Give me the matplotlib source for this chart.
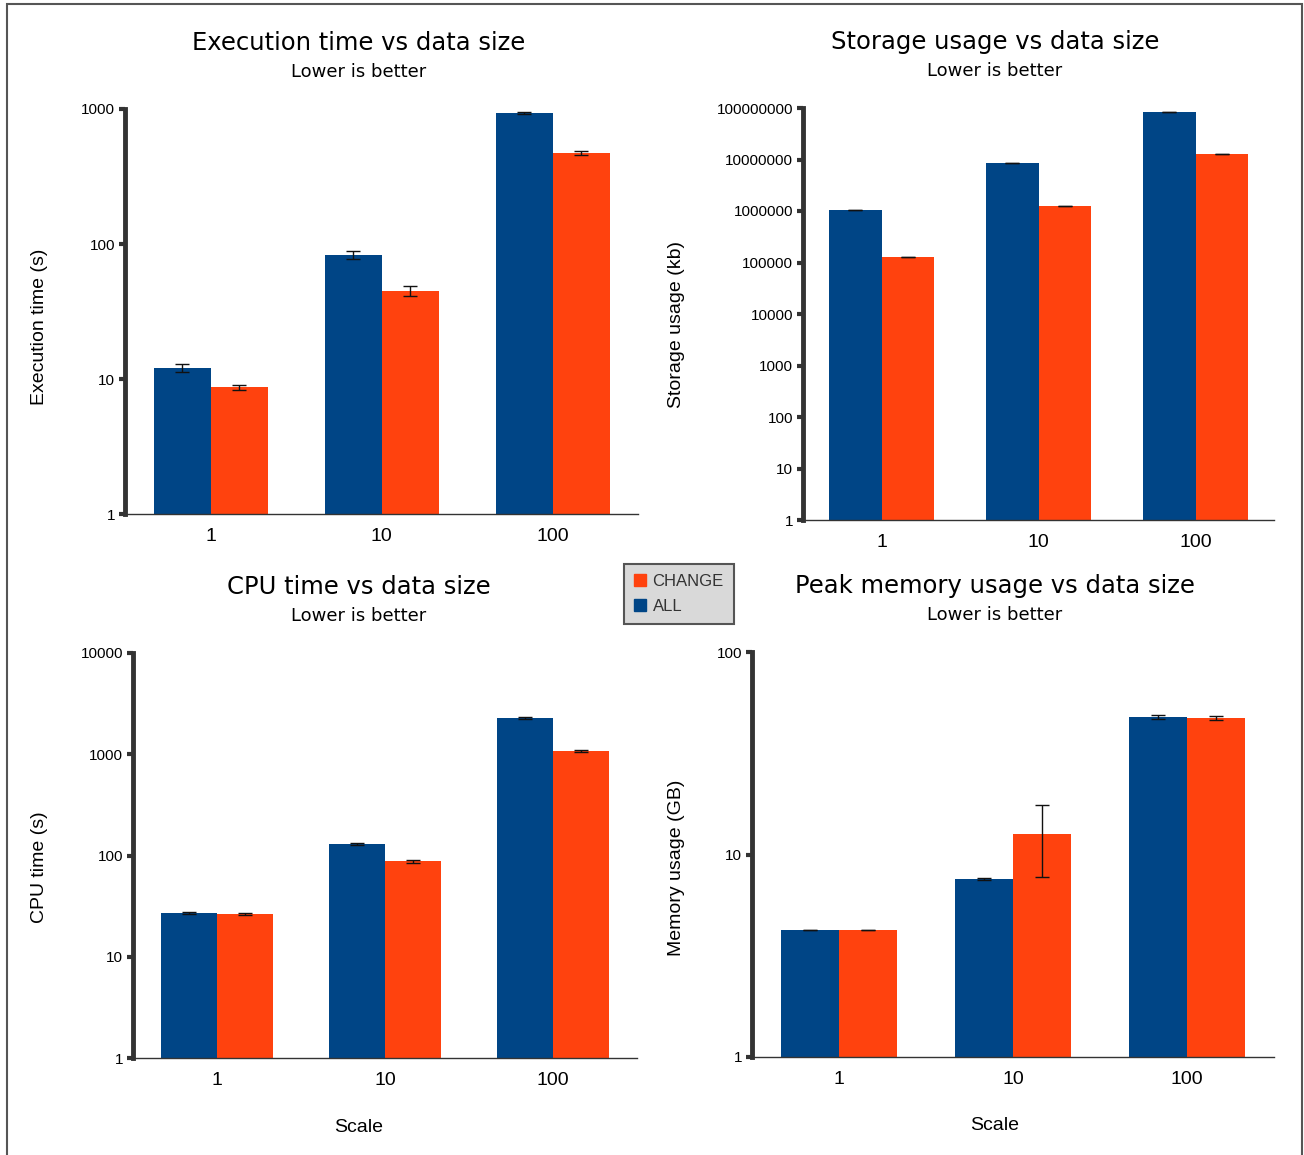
from matplotlib import pyplot as plt
from matplotlib.patches import Patch, Rectangle
import numpy as np

plt.rcParams['font.family'] = ['Liberation Sans', 'DejaVu Sans']

scales = ['1', '10', '100']
BLUE = '#004586'
RED = '#ff420e'

exec_all = [12.1, 83, 934]
exec_all_err = [0.8, 6, 22]
exec_change = [8.7, 45, 472]
exec_change_err = [0.35, 4, 15]

storage_all = [1.05e6, 8.5e6, 8.3e7]
storage_all_err = [1e4, 8e4, 8e5]
storage_change = [1.28e5, 1.25e6, 1.28e7]
storage_change_err = [1.5e3, 1.2e4, 1.2e5]

cpu_all = [27, 130, 2280]
cpu_all_err = [0.6, 3, 50]
cpu_change = [26.4, 88, 1077]
cpu_change_err = [0.8, 3, 30]

mem_all = [4.24, 7.57, 47.7]
mem_all_err = [0.02, 0.05, 1.2]
mem_change = [4.24, 12.6, 47.3]
mem_change_err = [0.02, 4.9, 1.2]

W, H = 1304, 1155
fig = plt.figure(figsize=(W / 100, H / 100), dpi=100)
fig.patches.append(Rectangle((7 / W, -0.01), (1302 - 7) / W, 1 - 4 / H + 0.01,
                             transform=fig.transFigure, fill=False,
                             edgecolor='#555555', linewidth=1.5))


def panel(box, all_v, all_e, ch_v, ch_e, ylim, ylabel, ylab_xy, title, tcenter, ttop, xlab_y=None):
    l, r, t, b = box
    ax = fig.add_axes([l / W, 1 - b / H, (r - l) / W, (b - t) / H])
    x = np.arange(len(scales))
    w = 1 / 3
    ax.bar(x - w / 2, all_v, w, color=BLUE, yerr=all_e, capsize=5,
           error_kw=dict(elinewidth=1, capthick=1, ecolor='#111111'))
    ax.bar(x + w / 2, ch_v, w, color=RED, yerr=ch_e, capsize=5,
           error_kw=dict(elinewidth=1, capthick=1, ecolor='#111111'))
    ax.set_yscale('log')
    ax.set_ylim(*ylim)
    ax.set_xlim(-0.5, 2.5)
    ticks = [10 ** k for k in range(int(np.log10(ylim[0])), int(np.log10(ylim[1])) + 1)]
    ax.set_yticks(ticks)
    ax.set_yticklabels([str(v) for v in ticks], fontsize=11)
    ax.yaxis.set_minor_locator(plt.NullLocator())
    ax.set_xticks(x)
    ax.set_xticklabels(scales, fontsize=14)
    ax.tick_params(axis='x', length=0, pad=10)
    ax.tick_params(axis='y', length=4, width=3, color='#333333', pad=3)
    for s in ['top', 'right']:
        ax.spines[s].set_visible(False)
    ax.spines['left'].set_linewidth(3.5)
    ax.spines['left'].set_color('#333333')
    ax.spines['bottom'].set_linewidth(1)
    ax.spines['bottom'].set_color('#333333')
    fig.text(ylab_xy[0] / W, 1 - ylab_xy[1] / H, ylabel, rotation=90, ha='center', va='center',
             fontsize=14)
    if xlab_y is not None:
        fig.text(tcenter / W, 1 - xlab_y / H, 'Scale', ha='center', va='center', fontsize=14)
    fig.text(tcenter / W, 1 - ttop / H, title, ha='center', va='center', fontsize=17.5,
             family=['DejaVu Sans'])
    fig.text(tcenter / W, 1 - (ttop + 29) / H, 'Lower is better', ha='center', va='center',
             fontsize=13, family=['DejaVu Sans'])
    return ax


panel((125, 638, 109, 514), exec_all, exec_all_err, exec_change, exec_change_err,
      (1, 1000), 'Execution time (s)', (40, 327), 'Execution time vs data size', 359, 43)
panel((803, 1274, 108, 520), storage_all, storage_all_err, storage_change, storage_change_err,
      (1, 1e8), 'Storage usage (kb)', (677, 324), 'Storage usage vs data size', 995, 42)
panel((133, 637, 653, 1058), cpu_all, cpu_all_err, cpu_change, cpu_change_err,
      (1, 10000), 'CPU time (s)', (40, 867), 'CPU time vs data size', 359, 587, xlab_y=1127)
panel((752, 1274, 652, 1057), mem_all, mem_all_err, mem_change, mem_change_err,
      (1, 100), 'Memory usage (GB)', (677, 868), 'Peak memory usage vs data size', 995, 586,
      xlab_y=1125)

handles = [Patch(color=RED, label='CHANGE'), Patch(color=BLUE, label='ALL')]
leg = fig.legend(handles=handles, loc='center', bbox_to_anchor=(679 / W, 1 - 594 / H),
                 fontsize=12, fancybox=False, framealpha=1, facecolor='#d9d9d9',
                 edgecolor='#555555', handlelength=0.7, handleheight=0.7,
                 handletextpad=0.4, borderpad=0.6, labelspacing=0.6)
leg.get_frame().set_linewidth(1.5)
for t in leg.get_texts():
    t.set_color('#333333')

fig.savefig('out.png', dpi=100)
